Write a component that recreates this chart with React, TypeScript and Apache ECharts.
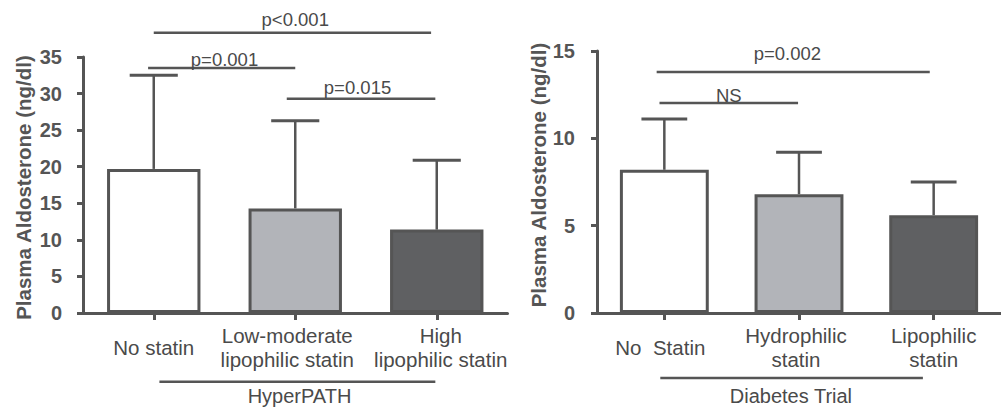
import React, { useEffect, useRef } from "react";
import * as echarts from "echarts";

// ---------- data ----------
const leftCategories = ["No statin", "Low-moderate\nlipophilic statin", "High\nlipophilic statin"];
const leftMeans = [19.7, 14.3, 11.4];
const leftUpper = [32.5, 26.3, 20.9];
const leftAxisMin = 0;
const leftAxisMax = 35;
const leftAxisInterval = 5;
const leftLabelShift = [0, -8, 4];

const rightCategories = ["No  Statin", "Hydrophilic\nstatin", "Lipophilic\nstatin"];
const rightMeans = [8.2, 6.8, 5.6];
const rightUpper = [11.1, 9.2, 7.5];
const rightAxisMin = 0;
const rightAxisMax = 15;
const rightAxisInterval = 5;
const rightLabelShift = [-4, -3, 0];

const yTitle = "Plasma Aldosterone (ng/dl)";

// annotation brackets: category-index span, line value, label, label position
const leftBracketLabels = ["p<0.001", "p=0.001", "p=0.015", "HyperPATH"];
const leftBracketX1 = [0.0, -0.04, 0.94, 0.04];
const leftBracketX2 = [1.96, 1.0, 1.99, 1.99];
const leftBracketY = [38.3, 33.5, 29.3, -9.4];
const leftLabelX = [1.0, 0.5, 1.44, 1.03];
const leftLabelY = [40.1, 34.7, 30.8, -11.3];

const rightBracketLabels = ["p=0.002", "NS", "Diabetes Trial"];
const rightBracketX1 = [-0.057, -0.036, -0.03];
const rightBracketX2 = [1.971, 0.993, 1.92];
const rightBracketY = [13.8, 12.02, -3.72];
const rightLabelX = [0.914, 0.479, 0.94];
const rightLabelY = [14.85, 12.45, -4.75];

const barFills = ["#ffffff", "#b2b4b9", "#5f6062"];

const FONT = '"Liberation Sans", Arial, Helvetica, sans-serif';
const LINE = "#555555";
const TEXT = "#4a4a4a";

function makeBracketRenderer(
  x1s: number[], x2s: number[], ys: number[], labels: string[], lxs: number[], lys: number[], fontSizes: number[]
) {
  return (params: any, api: any) => {
    const i = params.dataIndex;
    const interp = (x: number, y: number) => {
      const a = api.coord([0, y]);
      const b = api.coord([1, y]);
      return [a[0] + x * (b[0] - a[0]), a[1]];
    };
    const p1 = interp(x1s[i], ys[i]);
    const p2 = interp(x2s[i], ys[i]);
    const pt = interp(lxs[i], lys[i]);
    return {
      type: "group",
      children: [
        {
          type: "line",
          shape: { x1: p1[0], y1: p1[1], x2: p2[0], y2: p2[1] },
          style: { stroke: LINE, lineWidth: 2.5 },
        },
        {
          type: "text",
          x: pt[0],
          y: pt[1],
          style: {
            text: labels[i],
            fill: TEXT,
            font: `${fontSizes[i]}px ${FONT}`,
            align: "center",
            verticalAlign: "middle",
          },
        },
      ],
    };
  };
}

function errorRenderer(params: any, api: any) {
  const x = api.value(0);
  const base = api.coord([x, api.value(1)]);
  const top = api.coord([x, api.value(2)]);
  const half = api.size([1, 0])[0] * 0.17;
  return {
    type: "group",
    children: [
      {
        type: "line",
        shape: { x1: top[0], y1: base[1], x2: top[0], y2: top[1] },
        style: { stroke: LINE, lineWidth: 2.5 },
      },
      {
        type: "line",
        shape: { x1: top[0] - half, y1: top[1], x2: top[0] + half, y2: top[1] },
        style: { stroke: LINE, lineWidth: 3 },
      },
    ],
  };
}

function xAxisCfg(grid: number, data: string[], shifts: number[]) {
  const rich: any = {};
  shifts.forEach((s, i) => {
    rich["s" + i] = {
      fontSize: 20.5,
      lineHeight: 24,
      color: TEXT,
      fontFamily: FONT,
      padding: s < 0 ? [0, -2 * s, 0, 0] : [0, 0, 0, 2 * s],
    };
  });
  return {
    type: "category",
    gridIndex: grid,
    data,
    axisLine: { show: true, lineStyle: { color: LINE, width: 3 } },
    axisTick: { show: true, alignWithLabel: true, length: 7, lineStyle: { color: LINE, width: 3 } },
    axisLabel: {
      margin: 34,
      verticalAlign: "middle",
      lineHeight: 24,
      fontSize: 20.5,
      color: TEXT,
      fontFamily: FONT,
      interval: 0,
      formatter: (value: string, index: number) =>
        value
          .split("\n")
          .map((line) => `{s${index}|${line}}`)
          .join("\n"),
      rich,
    },
    splitLine: { show: false },
  };
}

function yAxisCfg(
  grid: number, min: number, max: number, interval: number, gap: number, margin: number, namePad: number[]
) {
  return {
    type: "value",
    gridIndex: grid,
    min,
    max,
    interval,
    axisLine: { show: true, lineStyle: { color: LINE, width: 3 } },
    axisTick: { show: true, length: 6, lineStyle: { color: LINE, width: 3 } },
    axisLabel: { margin, fontSize: 20, fontWeight: "bold", color: "#555555", fontFamily: FONT },
    splitLine: { show: false },
    name: yTitle,
    nameLocation: "middle",
    nameGap: gap,
    nameTextStyle: {
      fontSize: 20.5,
      fontWeight: "bold",
      color: "#555555",
      fontFamily: FONT,
      padding: namePad,
    },
  };
}

function barSeries(axis: number, means: number[], width: string) {
  return {
    type: "bar",
    xAxisIndex: axis,
    yAxisIndex: axis,
    barWidth: width,
    z: 2,
    data: means.map((v, i) => ({
      value: v,
      itemStyle: { color: barFills[i], borderColor: LINE, borderWidth: 3 },
    })),
  };
}

export default function App() {
  const ref = useRef<HTMLDivElement>(null);
  useEffect(() => {
    if (!ref.current) return;
    const chart = echarts.init(ref.current, undefined, { renderer: "svg" });
    const option: any = {
      animation: false,
      backgroundColor: "#ffffff",
      grid: [
        { left: 83, top: 57, width: 424.5, height: 256, containLabel: false },
        { left: 597, top: 51, width: 420, height: 262, containLabel: false },
      ],
      xAxis: [xAxisCfg(0, leftCategories, leftLabelShift), xAxisCfg(1, rightCategories, rightLabelShift)],
      yAxis: [
        yAxisCfg(0, leftAxisMin, leftAxisMax, leftAxisInterval, 49, 21, [0, 5, 0, 0]),
        yAxisCfg(1, rightAxisMin, rightAxisMax, rightAxisInterval, 44, 22, [0, 0, 0, 14]),
      ],
      series: [
        barSeries(0, leftMeans, "66%"),
        barSeries(1, rightMeans, "66%"),
        {
          type: "custom",
          xAxisIndex: 0,
          yAxisIndex: 0,
          z: 3,
          clip: false,
          renderItem: errorRenderer,
          data: leftMeans.map((m, i) => [i, m, leftUpper[i]]),
        },
        {
          type: "custom",
          xAxisIndex: 1,
          yAxisIndex: 1,
          z: 3,
          clip: false,
          renderItem: errorRenderer,
          data: rightMeans.map((m, i) => [i, m, rightUpper[i]]),
        },
        {
          type: "custom",
          xAxisIndex: 0,
          yAxisIndex: 0,
          z: 4,
          clip: false,
          renderItem: makeBracketRenderer(
            leftBracketX1, leftBracketX2, leftBracketY, leftBracketLabels, leftLabelX, leftLabelY,
            [18.5, 18.5, 18.5, 20]
          ),
          data: leftBracketY.map((y) => [0, y]),
        },
        {
          type: "custom",
          xAxisIndex: 1,
          yAxisIndex: 1,
          z: 4,
          clip: false,
          renderItem: makeBracketRenderer(
            rightBracketX1, rightBracketX2, rightBracketY, rightBracketLabels, rightLabelX, rightLabelY,
            [18.5, 18.5, 20]
          ),
          data: rightBracketY.map((y) => [0, y]),
        },
      ],
    };
    chart.setOption(option);
    return () => chart.dispose();
  }, []);
  return (
    <div
      ref={ref}
      style={{ position: "absolute", left: 0, top: 0, width: 1001, height: 409, background: "#fff" }}
    />
  );
}
